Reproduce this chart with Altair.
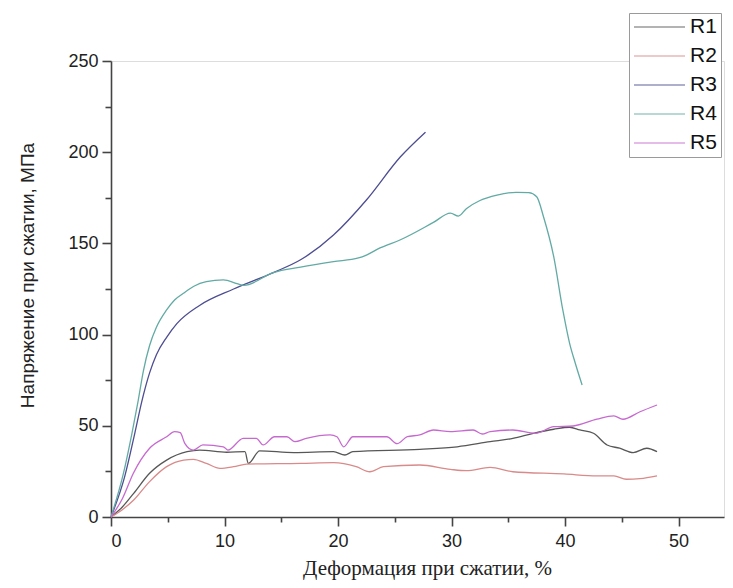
import altair as alt
import pandas as pd

series_names = ["R1", "R2", "R3", "R4", "R5"]
series_colors = ["#575757", "#d98a8a", "#4d4d92", "#62aaa4", "#c76ad0"]

r1_x = [0, 1, 2, 3.4, 4.9, 6.7, 7.8, 10.2, 11.8, 12.1, 13.1, 16.1, 19.6, 20.6, 21.3, 27.2,
        30.5, 33.4, 35.4, 37.2, 39, 40.4, 41.3, 42.5, 43.7, 44.8, 46, 47.2, 48.1]
r1_y = [0, 5.5, 13, 24, 31.2, 35.8, 36.7, 35.5, 35.8, 29.4, 36.3, 35.3, 35.8, 34, 35.8, 37.1,
        38.5, 41.3, 43.1, 45.9, 48.1, 49.2, 47.7, 45.9, 39.5, 37.7, 35.3, 37.7, 35.8]

r2_x = [0, 1, 2, 3.4, 4.9, 6.4, 7.25, 8.4, 9.6, 10.8, 11.95, 16.7, 19.6, 21.6, 22.8, 24,
        27.2, 29.9, 31.3, 33.4, 35.4, 39.9, 42.8, 44.3, 45.4, 46.6, 48.1]
r2_y = [0, 4, 9.3, 19.4, 27.6, 31.2, 31.6, 29.4, 26.7, 27.6, 29, 29.4, 29.8, 27.6, 24.8, 27.6,
        28.5, 26.1, 25.4, 27.2, 24.8, 23.6, 22.5, 22.5, 20.7, 21, 22.5]

r3_x = [0, 1.2, 2.1, 2.7, 3.4, 4.0, 4.9, 5.8, 7.8, 10.8, 14.3, 16.7, 19.6, 22.5, 25.5, 27.7]
r3_y = [0, 22, 46, 63, 79, 89, 98.5, 106, 116, 125, 134, 141, 154.6, 173.8, 197.5, 211]

r4_x = [0, 1.1, 1.85, 2.4, 2.85, 3.4, 4.0, 4.9, 5.6, 6.35, 7.3, 8.4, 9.9, 11.1, 11.7, 14.3, 16.7,
        19.6, 21.8, 22.5, 23.7, 25.5, 28.4, 29.9, 30.6, 31.3, 32.5, 34, 35.7, 36.8, 37.5, 38.1,
        39, 39.8, 40.4, 40.9, 41.5]
r4_y = [0, 24, 46, 64, 80, 94, 104, 113.5, 119, 122.5, 126.5, 129, 130, 128, 127, 134, 137,
        140, 142, 143.6, 147.5, 152, 161.5, 166.6, 165, 169, 173.5, 176.5, 178, 177.8, 175.6, 164.6,
        142.7, 113.5, 95.2, 84.3, 72.4]

r5_x = [0, 1, 1.97, 3.4, 4.9, 5.6, 6.1, 6.5, 7.25, 8.1, 9.9, 10.3, 11.65, 12.8, 13.4, 14.4,
        15.5, 16.2, 17.2, 19.3, 19.9, 20.5, 21.3, 24.3, 25.2, 26.1, 27.2, 28.4, 29.9, 31.9, 32.7,
        33.4, 35.4, 37.4, 39, 40.7, 42.8, 44.3, 45.1, 46.6, 48.1]
r5_y = [0, 10, 24, 37.7, 44, 46.8, 46.2, 40.4, 36.7, 39.5, 38.5, 36.7, 43.1, 43.1, 39.5, 44,
        44, 41.3, 43.1, 45, 44, 38.5, 44, 44, 40.2, 44, 45, 47.7, 46.8, 47.7, 45.5,
        46.8, 47.7, 45.9, 49.5, 49.9, 53.6, 55.4, 53.6, 57.7, 61.4]

x_ticks = [0, 5, 10, 15, 20, 25, 30, 35, 40, 45, 50]
y_ticks = [0, 25, 50, 75, 100, 125, 150, 175, 200, 225, 250]

rows = []
for name, xs, ys in zip(series_names, [r1_x, r2_x, r3_x, r4_x, r5_x],
                        [r1_y, r2_y, r3_y, r4_y, r5_y]):
    for i, (a, b) in enumerate(zip(xs, ys)):
        rows.append({"series": name, "x": a, "y": b, "i": i})
df = pd.DataFrame(rows)

chart = alt.Chart(df).mark_line(strokeWidth=1.3, interpolate="monotone").encode(
    x=alt.X("x:Q",
            scale=alt.Scale(domain=[0, 54], nice=False, zero=False),
            axis=alt.Axis(
                title="Деформация при сжатии, %",
                values=x_ticks,
                labelExpr="datum.value % 10 === 0 ? datum.label : ''",
                grid=False,
                tickSize={"condition": {"test": "datum.value % 10 === 0", "value": 9}, "value": 5},
                labelPadding=6,
                labelFont="Liberation Sans",
                labelFontSize=18,
                labelColor="#222222",
                titleFont="Liberation Serif",
                titleFontSize=21,
                titleFontWeight="normal",
                titleColor="#222222",
                titleX=316,
                titleY=51,
                titleBaseline="middle",
                domainColor="#444444",
                domainWidth=1.6,
                tickColor="#444444",
                tickWidth=1.6,
            )),
    y=alt.Y("y:Q",
            scale=alt.Scale(domain=[0, 250], nice=False, zero=False),
            axis=alt.Axis(
                title="Напряжение при сжатии, МПа",
                values=y_ticks,
                labelExpr="datum.value % 50 === 0 ? datum.label : ''",
                grid=False,
                tickSize={"condition": {"test": "datum.value % 50 === 0", "value": 9}, "value": 6},
                labelPadding=4,
                labelFont="Liberation Sans",
                labelFontSize=18,
                labelColor="#222222",
                titleFont="Liberation Sans",
                titleFontSize=19,
                titleFontWeight="normal",
                titleColor="#222222",
                titleX=-84,
                titleY=214,
                titleAngle=-90,
                titleBaseline="middle",
                domainColor="#444444",
                domainWidth=1.6,
                tickColor="#444444",
                tickWidth=1.6,
            )),
    color=alt.Color("series:N",
                    scale=alt.Scale(domain=series_names, range=series_colors),
                    legend=alt.Legend(
                        title=None,
                        orient="none",
                        legendX=518,
                        legendY=-48,
                        symbolType="stroke",
                        symbolSize=2601,
                        symbolStrokeWidth=1.6,
                        symbolOpacity=0.6,
                        clipHeight=20,
                        rowPadding=8,
                        labelFont="Liberation Sans",
                        labelFontSize=21,
                        labelColor="#111111",
                        labelOffset=4,
                        padding=4,
                        strokeColor="#9a9a9a",
                        fillColor="white",
                    )),
    order="i:Q",
).properties(
    width=613,
    height=456,
    autosize=alt.AutoSizeParams(type="none"),
    padding={"left": 103, "top": 53, "right": 1, "bottom": 70},
).configure_view(stroke=None).configure(background="white")

chart.save("out.html", embed_options={"renderer": "svg", "actions": False})
